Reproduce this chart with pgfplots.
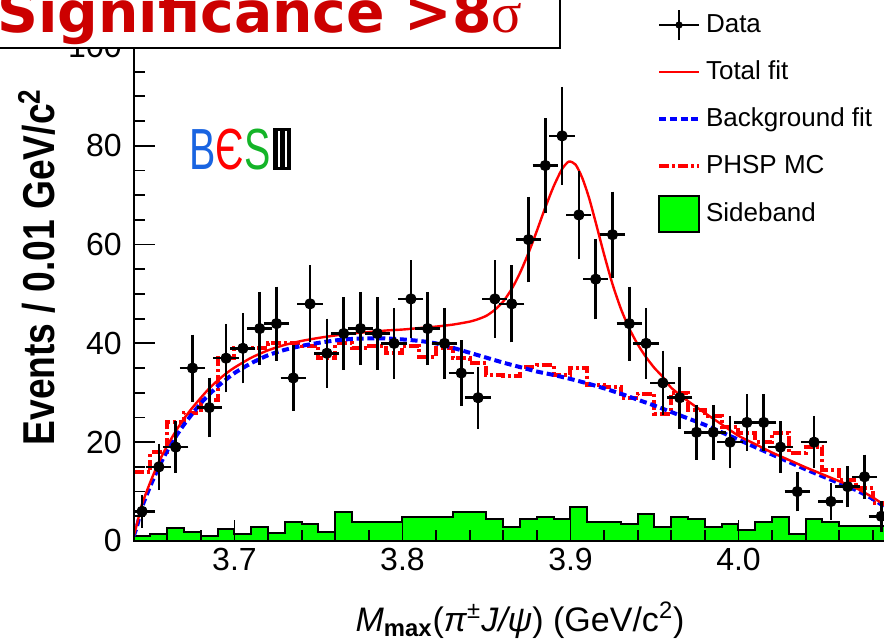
\documentclass[border=0pt]{standalone}
\usepackage{fontspec}
\setmainfont{Liberation Sans}
\newfontfamily\titlefont{DejaVu Sans}
\newfontfamily\serifgreek{Liberation Serif}
\usepackage{graphicx}
\usepackage{pgfplots}
\usepackage{pgfplotstable}
\pgfplotsset{compat=1.18}

\definecolor{histgreen}{RGB}{0,255,0}
\definecolor{fitred}{RGB}{255,0,0}
\definecolor{bkgblue}{RGB}{0,0,255}
\definecolor{titlered}{RGB}{204,0,0}
\definecolor{besblue}{RGB}{25,100,225}
\definecolor{besgreen}{RGB}{20,180,40}

% Roman numeral III of the experiment logo
\newcommand{\besthree}{\vbox{\hrule width 9pt height 1.6pt
  \hbox{\vrule width 2.3pt height 17.8pt\kern1.05pt\vrule width 2.3pt height 17.8pt\kern1.05pt\vrule width 2.3pt height 17.8pt}
  \hrule width 9pt height 1.6pt}}

% fixed-height frame shared by all legend symbols
\newcommand{\legendframe}{\path[draw=none,fill=none] (0pt,-9pt) rectangle (20pt,9pt);}

% data: bin centre, events, statistical error
\pgfplotstableread{
x      y   ey
3.645  6   2.45
3.655  15  3.87
3.665  19  4.36
3.675  35  5.92
3.685  27  5.20
3.695  37  6.08
3.705  39  6.24
3.715  43  6.56
3.725  44  6.63
3.735  33  5.74
3.745  48  6.93
3.755  38  6.16
3.765  42  6.48
3.775  43  6.56
3.785  42  6.48
3.795  40  6.32
3.805  49  7.00
3.815  43  6.56
3.825  40  6.32
3.835  34  5.83
3.845  29  5.39
3.855  49  7.00
3.865  48  6.93
3.875  61  7.81
3.885  76  8.72
3.895  82  9.06
3.905  66  8.12
3.915  53  7.28
3.925  62  7.87
3.935  44  6.63
3.945  40  6.32
3.955  32  5.66
3.965  29  5.39
3.975  22  4.69
3.985  22  4.69
3.995  20  4.47
4.005  24  4.90
4.015  24  4.90
4.025  19  4.36
4.035  10  3.16
4.045  20  4.47
4.055  8   2.83
4.065  11  3.32
4.075  13  3.61
4.085  5   2.24
}\datatable

\begin{document}
\begin{tikzpicture}
\begin{axis}[
  x=840pt, y=2.47pt,
  xmin=3.64, xmax=4.10, ymin=0, ymax=112,
  axis on top,
  axis line style={line width=1pt},
  every tick/.style={black, line width=0.9pt},
  major tick length=10.5pt, minor tick length=5.5pt,
  xtick pos=bottom, ytick pos=left,
  xtick={3.7,3.8,3.9,4.0},
  minor xtick={3.62,3.64,3.66,3.68,3.72,3.74,3.76,3.78,3.82,3.84,3.86,3.88,3.92,3.94,3.96,3.98,4.02,4.04,4.06,4.08},
  ytick={0,20,...,100},
  minor ytick={5,10,15,25,30,35,45,50,55,65,70,75,85,90,95,105,110},
  /pgf/number format/assume math mode=true,
  ticklabel style={font=\fontsize{16}{16}\selectfont},
  xticklabel style={/pgf/number format/.cd, fixed, fixed zerofill, precision=1},
  yticklabel style={xshift=-2.5pt},
  xlabel={\textit{M}\textsubscript{\textbf{max}}(\textit{π}\textsuperscript{±}\textit{J/ψ}) (GeV/c\textsuperscript{2})},
  xlabel style={at={(axis description cs:0.5,-0.1627)}, anchor=base, font=\fontsize{17}{17}\selectfont},
  ylabel={\scalebox{1}[1.2]{Events / 0.01 GeV/c\textsuperscript{2}}},
  ylabel style={at={(axis description cs:-0.1251,0.4952)}, anchor=center, font=\fontsize{18.6}{18.6}\selectfont\bfseries},
  reverse legend,
  legend cell align=left,
  legend style={at={(axis description cs:0.6772,0.9651)}, anchor=north west,
    draw=none, fill=none, inner sep=0pt, outer sep=0pt,
    row sep=5.5pt, column sep=0.5pt,
    font=\fontsize{13}{14}\selectfont,
    nodes={inner sep=2pt, text depth=0.15em}},
]

% sideband histogram
\addplot[const plot, draw=black, line width=1pt, fill=histgreen,
  legend image code/.code={\draw[black,line width=1pt,fill=histgreen,solid] (0pt,-9pt) rectangle (20pt,9pt);}]
  coordinates {(3.64,1.0) (3.65,1.4) (3.66,2.6) (3.67,1.8) (3.68,1.0) (3.69,2.5) (3.70,1.4) (3.71,2.9) (3.72,1.7) (3.73,3.9)
  (3.74,3.4) (3.75,1.8) (3.76,5.9) (3.77,3.9) (3.78,3.9) (3.79,3.9) (3.80,4.9) (3.81,4.9) (3.82,4.9) (3.83,5.9)
  (3.84,5.9) (3.85,4.5) (3.86,2.8) (3.87,4.4) (3.88,4.9) (3.89,4.4) (3.90,6.9) (3.91,3.9) (3.92,3.9) (3.93,3.4)
  (3.94,5.4) (3.95,2.8) (3.96,4.9) (3.97,4.5) (3.98,2.8) (3.99,3.4) (4.00,2.2) (4.01,3.9) (4.02,4.9) (4.03,1.4)
  (4.04,4.4) (4.05,3.9) (4.06,3.0) (4.07,3.0) (4.08,3.0) (4.09,3.0) (4.10,3.0)} \closedcycle;
\addlegendentry{Sideband}

% phase-space MC histogram
\addplot[const plot, fitred, line width=2pt, dash pattern=on 5pt off 1.5pt on 1.5pt off 1.5pt,
  legend image code/.code={\draw[fitred,line width=2pt,dash pattern=on 5pt off 1.5pt on 1.5pt off 1.5pt] (0pt,0pt) -- (20pt,0pt); \legendframe}]
  coordinates {(3.64,14) (3.65,18) (3.66,24) (3.67,26) (3.68,28.5) (3.69,37) (3.70,39) (3.71,39) (3.72,40) (3.73,40)
  (3.74,39.5) (3.75,37) (3.76,40) (3.77,39) (3.78,39.5) (3.79,38) (3.80,39.5) (3.81,37.3) (3.82,39) (3.83,37)
  (3.84,36) (3.85,33.6) (3.86,33.4) (3.87,35.3) (3.88,35.6) (3.89,33.6) (3.90,35) (3.91,31.6) (3.92,31.2) (3.93,28.9)
  (3.94,29.8) (3.95,25.8) (3.96,29.9) (3.97,26.5) (3.98,25.2) (3.99,23.1) (4.00,21.8) (4.01,20.1) (4.02,21.9) (4.03,17.8)
  (4.04,19.1) (4.05,14.4) (4.06,12.3) (4.07,10.7) (4.08,7.6) (4.09,5) (4.10,5)};
\addlegendentry{PHSP MC}

% background fit
\addplot[bkgblue, line width=2pt, dash pattern=on 3.5pt off 1.9pt, smooth, tension=0.4,
  legend image code/.code={\draw[bkgblue,line width=2pt,dash pattern=on 3.5pt off 1.9pt] (0pt,0pt) -- (20pt,0pt); \legendframe}]
  coordinates {(3.640,1) (3.642,3) (3.645,6.9) (3.650,11.2) (3.655,15) (3.660,18.3) (3.665,21.1) (3.670,23.6) (3.675,25.8)
  (3.680,27.9) (3.685,29.7) (3.690,31.3) (3.695,32.7) (3.700,34.0) (3.710,36.0) (3.720,37.6) (3.730,38.7) (3.740,39.5)
  (3.750,40.1) (3.760,40.6) (3.770,40.9) (3.780,41.0) (3.790,41.0) (3.800,40.8) (3.810,40.5) (3.820,40.0) (3.830,39.1)
  (3.840,38.1) (3.850,37.1) (3.860,36.1) (3.870,35.2) (3.880,34.3) (3.890,33.6) (3.900,32.8) (3.910,31.9) (3.920,30.9)
  (3.930,29.8) (3.940,28.6) (3.950,27.4) (3.960,26.1) (3.970,24.8) (3.980,23.5) (3.990,22.0) (4.000,20.5) (4.010,19.0)
  (4.020,17.5) (4.030,16.0) (4.040,14.5) (4.050,13.1) (4.060,11.7) (4.070,10.3) (4.080,8.5) (4.090,6.2) (4.100,3.5)};
\addlegendentry{Background fit}

% total fit
\addplot[fitred, line width=1.2pt, smooth, tension=0.4,
  legend image code/.code={\draw[fitred,line width=1.2pt,solid] (0pt,0pt) -- (20pt,0pt); \legendframe}]
  coordinates {(3.640,1) (3.642,3.5) (3.645,7.5) (3.650,12) (3.655,16) (3.660,19.3) (3.665,22.2) (3.670,24.8) (3.675,27)
  (3.680,29) (3.685,30.9) (3.690,32.5) (3.695,33.9) (3.700,35.1) (3.710,37.1) (3.720,38.6) (3.730,39.7) (3.740,40.5)
  (3.750,41.1) (3.760,41.6) (3.770,42.0) (3.780,42.3) (3.790,42.6) (3.800,42.8) (3.810,43.1) (3.820,43.4) (3.830,43.8)
  (3.840,44.4) (3.845,44.9) (3.850,45.6) (3.855,46.8) (3.860,48.5) (3.865,51) (3.870,54.3) (3.875,58.3) (3.880,62.8)
  (3.885,67.5) (3.890,71.8) (3.895,75.3) (3.899,76.8) (3.903,76.2) (3.907,73.5) (3.911,69.5) (3.915,64.5) (3.920,58)
  (3.925,52) (3.930,47) (3.935,43) (3.940,39.8) (3.945,37.2) (3.950,35.0) (3.955,33.2) (3.960,31.0) (3.970,28.3)
  (3.980,25.9) (3.990,23.6) (4.000,21.3) (4.010,19.6) (4.020,17.9) (4.030,16.4) (4.040,14.9) (4.050,13.5) (4.060,12.1)
  (4.070,10.7) (4.080,8.8) (4.090,6.5) (4.100,3.7)};
\addlegendentry{Total fit}

% data points with statistical errors
\addplot[black, only marks, mark=*, mark size=2.6pt,
  legend image code/.code={\draw[black,line width=1.2pt,solid] (0pt,0pt) -- (20pt,0pt) (10pt,-7.5pt) -- (10pt,7.5pt); \fill[black] (10pt,0pt) circle (1.6pt); \legendframe},
  error bars/.cd, x dir=both, x fixed=0.005, y dir=both, y explicit,
  error bar style={line width=1.25pt, black},
  error mark options={line width=1.25pt, mark size=2.1pt, black}]
  table[x=x, y=y, y error=ey] {\datatable};
\addlegendentry{Data}

% experiment logo
\node[inner sep=0pt] at (axis cs:3.7035,79.3) {\scalebox{0.68}[1]{\fontsize{29}{29}\selectfont\textcolor{besblue}{B}\textcolor{fitred}{Є}\textcolor{besgreen}{S}}\kern1.5pt\besthree};

\coordinate (boxsw) at (axis cs:3.5545,99.8);
\coordinate (boxne) at (axis cs:3.89375,111.5);
\coordinate (titlebase) at (axis cs:3.5586,102.83);
\coordinate (bbsw) at (axis cs:3.56042,-20.445);
\coordinate (bbne) at (axis cs:4.08661,109.51);
\end{axis}

% significance banner
\draw[line width=1.25pt, fill=white] (boxsw) rectangle (boxne);
\node[anchor=base west, inner sep=0pt, text=titlered] at (titlebase)
  {\titlefont\bfseries\fontsize{28.4}{30}\selectfont Significance >8{\serifgreek\mdseries σ}};

\pgfresetboundingbox
\path[use as bounding box] (bbsw) rectangle (bbne);
\end{tikzpicture}
\end{document}
